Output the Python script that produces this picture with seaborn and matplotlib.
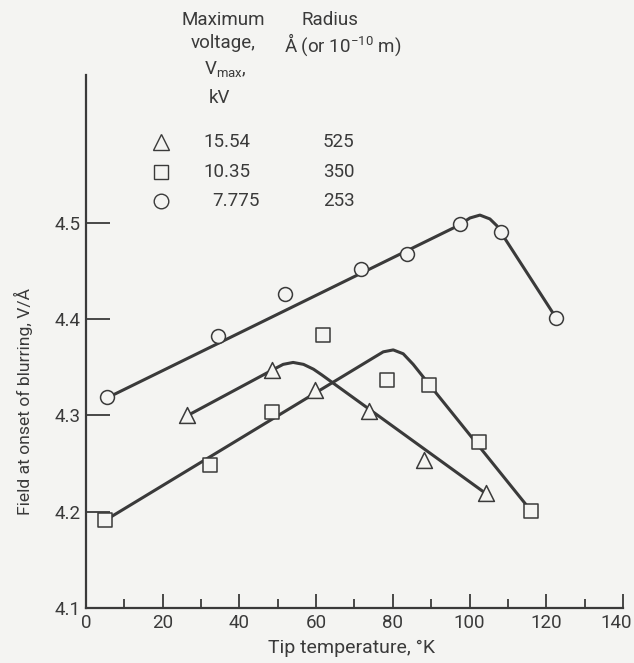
import matplotlib
matplotlib.use("Agg")
import matplotlib.pyplot as plt
import matplotlib.transforms as mtransforms
import seaborn as sns

# Measured points (tip temperature K, field V/A)
tri_x = [26.4, 48.4, 59.7, 73.7, 88.1, 104.2]
tri_y = [4.300, 4.347, 4.326, 4.305, 4.254, 4.219]
sq_x = [5.0, 32.2, 48.6, 61.7, 78.5, 89.5, 102.5, 116.0]
sq_y = [4.191, 4.248, 4.304, 4.383, 4.337, 4.332, 4.272, 4.201]
circ_x = [5.4, 34.3, 51.9, 71.7, 83.8, 97.4, 108.1, 122.6]
circ_y = [4.319, 4.382, 4.426, 4.452, 4.468, 4.499, 4.490, 4.401]

# Hand-faired curves
tri_fit_x = [27.0, 49.0, 51.4, 54.0, 56.7, 59.3, 61.5, 104.2]
tri_fit_y = [4.301, 4.348, 4.353, 4.355, 4.353, 4.348, 4.342, 4.219]
sq_fit_x = [5.0, 75.0, 77.5, 80.1, 82.7, 85.3, 89.5, 116.0]
sq_fit_y = [4.191, 4.360, 4.366, 4.368, 4.364, 4.353, 4.332, 4.201]
circ_fit_x = [5.4, 97.0, 100.1, 102.7, 105.3, 107.1, 108.5, 122.6]
circ_fit_y = [4.318, 4.497, 4.505, 4.508, 4.504, 4.497, 4.488, 4.401]

vmax = ["15.54", "10.35", "7.775"]
radius = ["525", "350", "253"]
x_ticks = [0, 20, 40, 60, 80, 100, 120, 140]
y_ticks = [4.1, 4.2, 4.3, 4.4, 4.5]

bg = "#f4f4f2"
ink = "#3a3a3a"

sns.set_theme(style="ticks")
plt.rcParams["font.family"] = ["Roboto", "DejaVu Sans"]
plt.rcParams["mathtext.fontset"] = "custom"
plt.rcParams["mathtext.rm"] = "Roboto"
plt.rcParams["mathtext.it"] = "Roboto"
plt.rcParams["text.color"] = ink

W, H = 634, 663
fig = plt.figure(figsize=(W / 100, H / 100), dpi=100, facecolor=bg)
ax = fig.add_axes([86 / W, 1 - 608 / H, (623 - 86) / W, (608 - 75) / H])
ax.set_facecolor(bg)

# curves first, markers on top (hollow)
for fx_, fy_ in [(tri_fit_x, tri_fit_y), (sq_fit_x, sq_fit_y), (circ_fit_x, circ_fit_y)]:
    sns.lineplot(x=fx_, y=fy_, sort=False, color=ink, linewidth=2.2, ax=ax)

sns.scatterplot(x=tri_x, y=tri_y, marker="^", s=130, facecolor=bg,
                edgecolor=ink, linewidth=1.1, ax=ax, zorder=3)
sns.scatterplot(x=sq_x, y=sq_y, marker="s", s=100, facecolor=bg,
                edgecolor=ink, linewidth=1.1, ax=ax, zorder=3)
sns.scatterplot(x=circ_x, y=circ_y, marker="o", s=100, facecolor=bg,
                edgecolor=ink, linewidth=1.1, ax=ax, zorder=3)

ax.set_xlim(0, 140)
ax.set_ylim(4.1, 4.1 + (608 - 75) / 963)
ax.set_xticks(x_ticks)
ax.set_xticks(range(10, 140, 20), minor=True)
ax.set_yticks(y_ticks)
ax.set_yticklabels([f"{v:.1f}" for v in y_ticks])
ax.tick_params(axis="x", which="major", direction="in", length=10, width=1.3,
               color=ink, labelsize=13.5, labelcolor=ink, pad=4.5)
ax.tick_params(axis="x", which="minor", direction="in", length=6.5, width=1.3, color=ink)
ax.tick_params(axis="y", direction="in", length=17, width=1.3, color=ink,
               labelsize=13.5, labelcolor=ink, pad=4)
sns.despine(ax=ax)
for s in ["left", "bottom"]:
    ax.spines[s].set_linewidth(1.6)
    ax.spines[s].set_color(ink)

# keep the last x label inside the figure
last = ax.get_xticklabels()[-1]
last.set_transform(last.get_transform()
                   + mtransforms.ScaledTranslation(-5 / 72, 0, fig.dpi_scale_trans))

ax.set_xlabel("Tip temperature, °K", fontsize=14, color=ink)
ax.xaxis.set_label_coords(0.495, -0.058)
ax.set_ylabel("Field at onset of blurring, V/Å", fontsize=12.6, color=ink)
ax.yaxis.set_label_coords(-0.099, 0.388)


def fx(px):
    return px / W


def fy(py):
    return 1 - py / H


# legend block drawn as text
hdr = dict(fontsize=13.5, ha="center", va="center", color=ink)
fig.text(fx(223), fy(20), "Maximum", **hdr)
fig.text(fx(223), fy(43), "voltage,", **hdr)
fig.text(fx(225), fy(69), r"V$_{\mathrm{max}}$,", **hdr)
fig.text(fx(220), fy(98), "kV", **hdr)
fig.text(fx(330), fy(20), "Radius", **hdr)
fig.text(fx(343), fy(45), r"Å (or 10$^{-10}$ m)", **hdr)

rows_y = [142, 172, 201]
for mk, ms, y in zip(["^", "s", "o"], [11.5, 10, 10.5], rows_y):
    ax.plot([fx(161)], [fy(y)], marker=mk, markersize=ms, markerfacecolor=bg,
            markeredgecolor=ink, markeredgewidth=1.0, linestyle="none",
            transform=fig.transFigure, clip_on=False)
for v, r, y, xl in zip(vmax, radius, rows_y, [203, 203, 212]):
    fig.text(fx(xl), fy(y), v, fontsize=13.5, ha="left", va="center", color=ink)
    fig.text(fx(323), fy(y), r, fontsize=13.5, ha="left", va="center", color=ink)

fig.savefig("out.png", dpi=100, facecolor=bg)
